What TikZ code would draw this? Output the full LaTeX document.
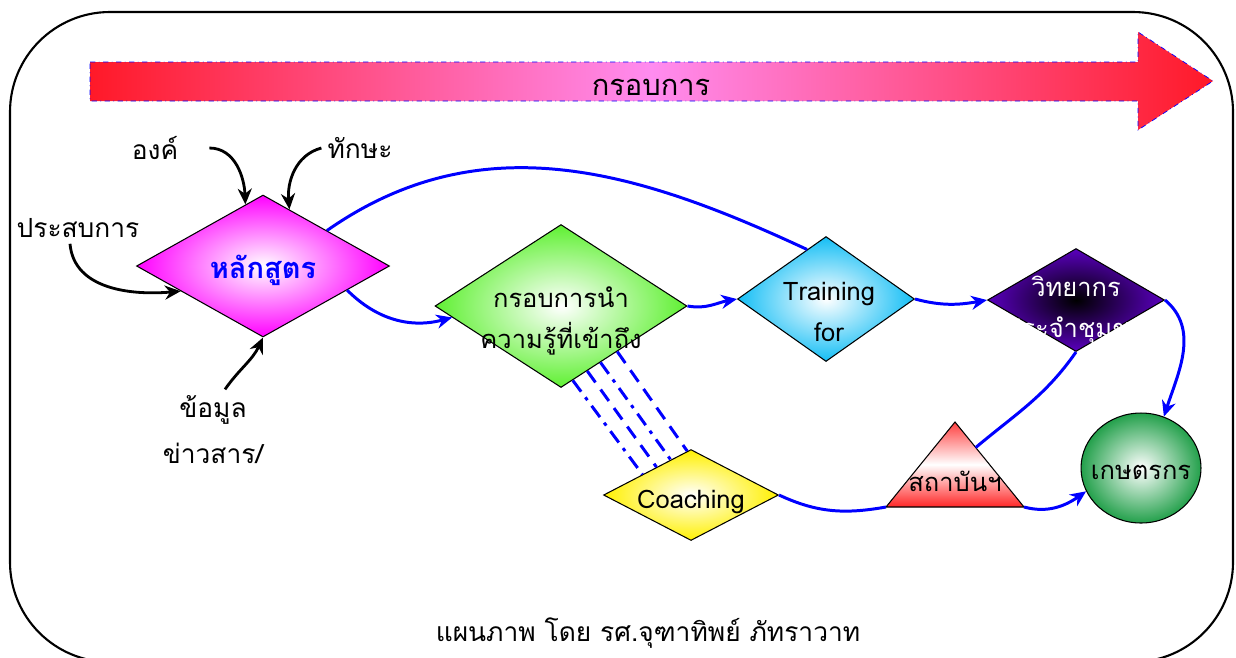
\documentclass[tikz,border=0pt]{standalone}
\usepackage{fontspec}
\setmainfont[Script=Thai]{Loma}
\usetikzlibrary{arrows,positioning,calc,shapes.geometric,arrows.meta}

\definecolor{redc}{RGB}{255,25,40}
\definecolor{pinkc}{RGB}{255,140,240}
\definecolor{magentac}{RGB}{255,0,255}
\definecolor{greenc}{RGB}{95,240,50}
\definecolor{cyanc}{RGB}{20,190,245}
\definecolor{purplec}{RGB}{90,0,190}
\definecolor{yellowc}{RGB}{255,240,0}
\definecolor{farmerc}{RGB}{35,160,75}

\begin{document}
\begin{tikzpicture}[x=0.02cm,y=-0.02cm,>={Stealth[length=9pt,width=8pt]}]
	\tikzset{dia/.style = {shape=diamond, draw, semithick, inner sep=0pt, inner color=white},
		lbl/.style = {font=\fontsize{15}{20}\selectfont},
		intext/.style = {font=\fontsize{14.5}{23}\selectfont, align=center},
		feed/.style = {->, line width=1.6pt, black},
		flow/.style = {line width=1.7pt, blue},
		longdash/.style = {dash pattern=on 8pt off 5pt},
		longdashdot/.style = {dash pattern=on 8pt off 4pt on 2pt off 4pt}}
	\useasboundingbox (0,0) rectangle (1236,657);
	\draw[line width=1.2pt, rounded corners=2cm] (10,12) rectangle (1233,662);

	% big arrow on top
	\path[draw=blue, dash dot, thin, left color=redc, right color=redc, middle color=pinkc]
		(90,62) -- (1138,62) -- (1138,32) -- (1213,81) -- (1138,130) -- (1138,101) -- (90,101) -- cycle;
	\node[font=\fontsize{16.5}{20}\selectfont] (frame) at (651,87) {กรอบการ};

	% shapes
	\node[dia, outer color=magentac, minimum width=5.06cm, minimum height=2.84cm,
		label={[font=\bfseries\fontsize{16.5}{20}\selectfont, text=blue, yshift=-0.08cm]center:หลักสูตร}] (hlak) at (263,266) {};
	\node[dia, outer color=greenc, minimum width=5.04cm, minimum height=3.26cm,
		label={[intext, yshift=-0.3cm]center:กรอบการนำ\\ความรู้ที่เข้าถึง}] (knw) at (561,306) {};
	\node[dia, outer color=cyanc, minimum width=3.54cm, minimum height=2.5cm,
		label={[intext, xshift=0.06cm, yshift=-0.26cm]center:Training\\for}] (train) at (826,299) {};
	\node[dia, inner color=black, outer color=purplec, minimum width=3.54cm, minimum height=2.06cm,
		label={[intext, text=white, yshift=-0.2cm]center:วิทยากร\\ประจำชุมชน}] (spk) at (1076,300) {};
	\node[dia, outer color=yellowc, minimum width=3.5cm, minimum height=1.82cm,
		label={[intext, yshift=-0.14cm]center:Coaching}] (coach) at (691,495) {};
	\draw[semithick, top color=red!75, bottom color=red!85, middle color=white]
		(886,507) coordinate (tl) -- (955,422) coordinate (tt) -- (1024,507) coordinate (tr) -- cycle;
	\node[intext] (inst) at (955,481) {สถาบันฯ};
	\node[ellipse, draw, semithick, inner sep=0pt, inner color=white, outer color=farmerc,
		minimum width=2.4cm, minimum height=2.2cm,
		label={[intext, yshift=-0.08cm]center:เกษตรกร}] (farmer) at (1141,468) {};

	% inputs of the curriculum
	\node[lbl] (ong) at (155,148) {องค์};
	\node[lbl] (skill) at (360,148) {ทักษะ};
	\node[lbl] (exp) at (78,228) {ประสบการ};
	\node[lbl] (info) at (213,410) {ข้อมูล};
	\node[lbl] (news) at (213,453) {ข่าวสาร/};
	\draw[feed] ([xshift=0.5cm]ong.east) to[out=0, in=92] (hlak.106);
	\draw[feed] (skill.west) to[out=195, in=95] (hlak.65);
	\draw[feed] ([xshift=-0.16cm]exp.south) to[out=-85, in=185] (hlak.197);
	\draw[feed] ([xshift=0.24cm]info.north) to[out=55, in=-115] (hlak.south);

	% flow
	\draw[flow, ->] (hlak.-16) to[out=-45, in=195] (knw.186);
	\draw[flow] (hlak.29) to[out=35, in=155] (train.111);
	\draw[flow, ->] (knw.east) to[out=-10, in=190] (train.west);
	\draw[flow, ->] (train.east) to[out=-15, in=190] (spk.west);
	\draw[flow, ->] (spk.east) to[out=-40, in=72] (farmer.66);
	\draw[flow] (coach.east) to[out=-25, in=190] (tl);
	\draw[flow, ->] (tr) to[out=-15, in=215] (farmer.203);
	\coordinate (tm) at ($(tt)!0.3!(tr)$);
	\draw[flow] (tm) to[out=40, in=-125] (spk.south);

	% links to coaching
	\draw[flow, longdashdot] (knw.-81) -- (coach.157);
	\draw[flow, longdash] (knw.-68) -- (coach.141);
	\draw[flow, longdashdot] (knw.-55) -- (coach.120);
	\draw[flow, longdash] (knw.-39) -- (coach.95);

	\node[lbl] (credit) at (648,633) {แผนภาพ โดย รศ.จุฑาทิพย์ ภัทราวาท};
\end{tikzpicture}
\end{document}
